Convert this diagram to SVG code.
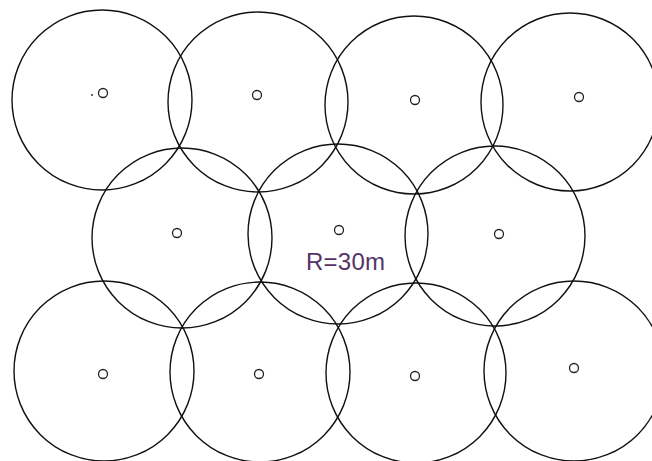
<svg xmlns="http://www.w3.org/2000/svg" width="652" height="461" viewBox="0 0 652 461">
<style>
.c{fill:none;stroke:#111;stroke-width:1.4}
.m{fill:none;stroke:#222;stroke-width:1.3}
.t{font-family:"Liberation Sans",Arial,sans-serif;font-size:24px;fill:#553366}
</style>
<rect width="652" height="461" fill="#fff"/>
<g id="n1"><circle class="c" cx="102" cy="100" r="90"/><circle class="m" cx="103" cy="93" r="4.5"/><circle cx="92" cy="95" r="0.9" fill="#222"/></g>
<g id="n2"><circle class="c" cx="258" cy="102" r="90"/><circle class="m" cx="257" cy="95" r="4.5"/></g>
<g id="n3"><circle class="c" cx="414" cy="105" r="89"/><circle class="m" cx="415" cy="100" r="4.5"/></g>
<g id="n4"><circle class="c" cx="570" cy="102" r="89"/><circle class="m" cx="579" cy="97" r="4.5"/></g>
<g id="n5"><circle class="c" cx="182" cy="238" r="90"/><circle class="m" cx="177" cy="233" r="4.5"/></g>
<g id="n6"><circle class="c" cx="338" cy="234" r="90"/><circle class="m" cx="339" cy="230" r="4.5"/></g>
<g id="n7"><circle class="c" cx="495" cy="236" r="90"/><circle class="m" cx="499" cy="234" r="4.5"/></g>
<g id="n8"><circle class="c" cx="104" cy="371" r="90"/><circle class="m" cx="103" cy="374" r="4.5"/></g>
<g id="n9"><circle class="c" cx="260" cy="372" r="90"/><circle class="m" cx="259" cy="374" r="4.5"/></g>
<g id="n10"><circle class="c" cx="416" cy="373" r="90"/><circle class="m" cx="415" cy="376" r="4.5"/></g>
<g id="n11"><circle class="c" cx="574" cy="371" r="90"/><circle class="m" cx="574" cy="368" r="4.5"/></g>
<g id="connectors"></g>
<text class="t" x="306" y="270" textLength="79">R=30m</text>
</svg>
